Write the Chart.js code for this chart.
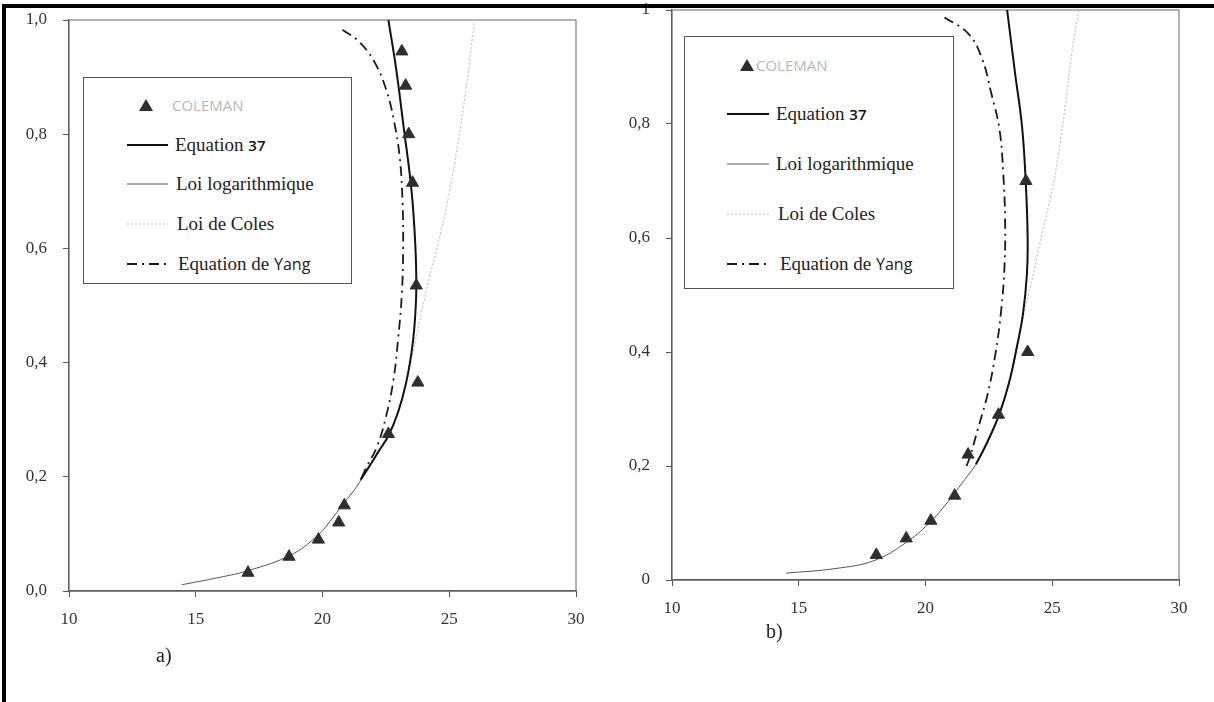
<!DOCTYPE html>
<html>
<head>
<meta charset="utf-8">
<script src="https://cdn.jsdelivr.net/npm/chart.js@4"></script>
<style>
  body { margin: 0; background: #fff; }
  #page { position: relative; width: 1214px; height: 702px; overflow: hidden; background: #fff; }
  #page canvas { position: absolute; top: 0; }
  #frame { position: absolute; left: 2px; top: 4px; right: -10px; bottom: -10px;
           border-top: 4px solid #000; border-left: 4px solid #000; pointer-events: none; z-index: 5; }
  .legend { position: absolute; border: 1px solid #555; background: #fff; z-index: 3; }
  .row { position: absolute; height: 26px; display: flex; align-items: center; white-space: nowrap; }
  .serif { font-family: "Liberation Serif", serif; font-size: 19px; color: #222; }
  .light { font-family: "Open Sans", sans-serif; font-size: 15px; color: #b8b8b8; }
  .num { font-family: "Open Sans", sans-serif; font-size: 15px; font-weight: 600; color: #111; }
  .sans { font-family: "Open Sans", sans-serif; font-size: 16px; color: #222; }
  .panel { position: absolute; font-family: "Liberation Serif", serif; font-size: 20px; color: #222; z-index: 3; }
</style>
</head>
<body>
<div id="page">
  <canvas id="chartA" width="600" height="702" style="left:0"></canvas>
  <canvas id="chartB" width="614" height="702" style="left:600px"></canvas>
  <div class="panel" style="left:156px; top:644px;">a)</div>
  <div class="panel" style="left:766px; top:620px;">b)</div>
  <div id="frame"></div>
</div>
<script>
// series names and legend labels
const seriesNames = ['COLEMAN', 'Equation 37', 'Loi logarithmique', 'Loi de Coles', 'Equation de Yang'];
const legendHtml = [
  '<span class="light">COLEMAN</span>',
  '<span class="serif">Equation&nbsp;</span><span class="num">37</span>',
  '<span class="serif">Loi logarithmique</span>',
  '<span class="serif">Loi de Coles</span>',
  '<span class="serif">Equation de&nbsp;</span><span class="sans">Yang</span>'
];

const xTicks = [10, 15, 20, 25, 30];
const yTicks = [0, 0.2, 0.4, 0.6, 0.8, 1.0];

// panel a) : [U, y/h]
const colemanA = [[23.13, 0.945], [23.28, 0.885], [23.40, 0.80], [23.55, 0.715], [23.70, 0.535], [23.76, 0.365],
                  [22.60, 0.275], [20.86, 0.15], [20.64, 0.12], [19.84, 0.09], [18.68, 0.06], [17.06, 0.032]];
const eq37A = [[22.6, 1.0], [22.9, 0.916], [23.2, 0.813], [23.51, 0.702], [23.66, 0.607], [23.70, 0.528],
               [23.63, 0.465], [23.51, 0.417], [23.28, 0.361], [22.98, 0.313], [22.6, 0.272], [22.22, 0.245],
               [21.77, 0.213], [21.5, 0.195]];
const logA = [[14.45, 0.011], [15.73, 0.022], [17.09, 0.036], [18.75, 0.063], [19.81, 0.097], [20.26, 0.12],
              [20.86, 0.155], [21.32, 0.181], [21.77, 0.213], [22.22, 0.245], [22.6, 0.272], [22.98, 0.313],
              [23.28, 0.361]];
const colesA = [[21.77, 0.213], [22.22, 0.245], [22.6, 0.272], [22.98, 0.313], [23.28, 0.361], [23.58, 0.42],
                [23.89, 0.485], [24.19, 0.544], [24.64, 0.623], [25.02, 0.702], [25.39, 0.797], [25.70, 0.892],
                [26.0, 1.0]];
const yangA = [[20.79, 0.983], [21.47, 0.961], [22.07, 0.925], [22.52, 0.877], [22.83, 0.821], [23.05, 0.758],
               [23.16, 0.678], [23.18, 0.60], [23.13, 0.52], [22.98, 0.44], [22.80, 0.37], [22.52, 0.308],
               [22.15, 0.253], [21.70, 0.214], [21.55, 0.198]];

// panel b)
const colemanB = [[23.96, 0.70], [24.03, 0.40], [22.88, 0.29], [21.68, 0.22], [21.15, 0.148], [20.21, 0.104],
                  [19.24, 0.073], [18.06, 0.044]];
const eq37B = [[23.22, 1.0], [23.53, 0.89], [23.81, 0.795], [23.96, 0.693], [24.03, 0.599], [24.0, 0.536],
               [23.84, 0.465], [23.61, 0.41], [23.30, 0.347], [22.92, 0.292], [22.45, 0.243], [21.99, 0.203]];
const logB = [[14.5, 0.012], [16.43, 0.020], [17.97, 0.034], [19.21, 0.065], [20.13, 0.099], [20.75, 0.13],
              [21.68, 0.184], [21.99, 0.203], [22.45, 0.243], [22.92, 0.292], [23.30, 0.347], [23.61, 0.41]];
const colesB = [[22.45, 0.243], [22.92, 0.292], [23.30, 0.347], [23.69, 0.43], [24.15, 0.517], [24.61, 0.61],
                [25.08, 0.704], [25.46, 0.814], [25.77, 0.924], [26.05, 1.0]];
const yangB = [[20.75, 0.987], [21.68, 0.959], [22.22, 0.916], [22.60, 0.853], [22.92, 0.79], [23.07, 0.711],
               [23.14, 0.633], [23.12, 0.554], [22.99, 0.475], [22.76, 0.397], [22.45, 0.326], [22.06, 0.264],
               [21.76, 0.217], [21.62, 0.2]];

const styles = {
  'COLEMAN':           { color: '#2e2e2e', width: 0 },
  'Equation 37':       { color: '#111', width: 2, dash: [] },
  'Loi logarithmique': { color: '#555', width: 1, dash: [] },
  'Loi de Coles':      { color: '#c4c4c4', width: 1.2, dash: [2, 2] },
  'Equation de Yang':  { color: '#1a1a1a', width: 1.8, dash: [10, 5, 2, 5] }
};

const toPts = arr => arr.map(p => ({ x: p[0], y: p[1] }));

function makeDatasets(series) {
  // first dataset ends up on top
  return [
    { label: seriesNames[0], data: toPts(series[0]), showLine: false, pointStyle: 'triangle',
      pointRadius: 7, backgroundColor: styles['COLEMAN'].color, borderColor: styles['COLEMAN'].color, borderWidth: 1 },
    ...[1, 4, 2, 3].map(i => {
      const s = styles[seriesNames[i]];
      return { label: seriesNames[i], data: toPts(series[i]), showLine: true, tension: 0.4,
               pointRadius: 0, borderColor: s.color, borderWidth: s.width, borderDash: s.dash };
    })
  ];
}

const plotFrame = {
  id: 'plotFrame',
  beforeDatasetsDraw(chart) {
    const a = chart.chartArea, ctx = chart.ctx;
    ctx.save();
    ctx.strokeStyle = '#666';
    ctx.lineWidth = 1;
    ctx.strokeRect(a.left, a.top, a.right - a.left, a.bottom - a.top);
    ctx.restore();
  }
};

function makeChart(id, series, pad, yFmt) {
  return new Chart(document.getElementById(id), {
    type: 'scatter',
    data: { datasets: makeDatasets(series) },
    plugins: [plotFrame],
    options: {
      responsive: false,
      animation: false,
      events: [],
      layout: { padding: pad },
      plugins: { legend: { display: false }, tooltip: { enabled: false } },
      scales: {
        x: {
          min: 10, max: 30,
          afterBuildTicks: s => { s.ticks = xTicks.map(v => ({ value: v })); },
          afterFit: s => { s.height = 40; s.paddingLeft = 0; s.paddingRight = 0; },
          grid: { drawOnChartArea: false, tickLength: 6, color: '#555' },
          border: { color: '#555', width: 1.6 },
          ticks: { padding: 12, color: '#333', font: { family: 'Liberation Serif', size: 17 } }
        },
        y: {
          min: 0, max: 1,
          afterBuildTicks: s => { s.ticks = yTicks.map(v => ({ value: v })); },
          // fixed width, and no extra room for the half-height of the end labels
          afterFit: s => { s.width = pad.yw; s.paddingTop = 0; s.paddingBottom = 0; },
          grid: { drawOnChartArea: false, tickLength: 6, color: '#555' },
          border: { color: '#555', width: 1.2 },
          ticks: { padding: 16, color: '#333', font: { family: 'Liberation Serif', size: 17 },
                   callback: yFmt }
        }
      }
    }
  });
}

const fmtA = v => v.toFixed(1).replace('.', ',');
const fmtB = v => (v === 0 || v === 1) ? String(v) : v.toFixed(1).replace('.', ',');

makeChart('chartA', [colemanA, eq37A, logA, colesA, yangA],
          { left: 0, right: 24, top: 20, bottom: 71, yw: 69 }, fmtA);
makeChart('chartB', [colemanB, eq37B, logB, colesB, yangB],
          { left: 0, right: 35, top: 10, bottom: 82, yw: 72 }, fmtB);

// boxed legends with line samples
const legendLayout = [
  { left: 83, top: 77, width: 267, height: 205, rows: [104, 144, 183, 223, 263],
    mark: 145, sample: [126, 167], text: [171, 174, 175, 176, 177] },
  { left: 684, top: 36, width: 268, height: 251, rows: [64, 113, 163, 213, 263],
    mark: 746, sample: [726, 768], text: [755, 775, 775, 777, 779] }
];

function sampleSvg(name, w) {
  const s = styles[name];
  if (name === 'COLEMAN') {
    return '<svg width="14" height="12"><polygon points="7,0 14,12 0,12" fill="' + s.color + '"/></svg>';
  }
  return '<svg width="' + w + '" height="6"><line x1="0" y1="3" x2="' + w + '" y2="3" stroke="' + s.color +
         '" stroke-width="' + s.width + '" stroke-dasharray="' + (s.dash.length ? s.dash.join(',') : 'none') + '"/></svg>';
}

const page = document.getElementById('page');
legendLayout.forEach(L => {
  const box = document.createElement('div');
  box.className = 'legend';
  box.style.cssText = `left:${L.left}px;top:${L.top}px;width:${L.width}px;height:${L.height}px;`;
  seriesNames.forEach((name, i) => {
    const y = L.rows[i] - L.top - 13;
    const m = document.createElement('div');
    m.className = 'row';
    if (i === 0) {
      m.style.cssText = `left:${L.mark - 7 - L.left}px;top:${y}px;`;
      m.innerHTML = sampleSvg(name);
    } else {
      m.style.cssText = `left:${L.sample[0] - L.left}px;top:${y}px;`;
      m.innerHTML = sampleSvg(name, L.sample[1] - L.sample[0]);
    }
    box.appendChild(m);
    const t = document.createElement('div');
    t.className = 'row';
    t.style.cssText = `left:${L.text[i] - L.left}px;top:${y}px;`;
    t.innerHTML = legendHtml[i];
    box.appendChild(t);
  });
  page.appendChild(box);
});
</script>
</body>
</html>
